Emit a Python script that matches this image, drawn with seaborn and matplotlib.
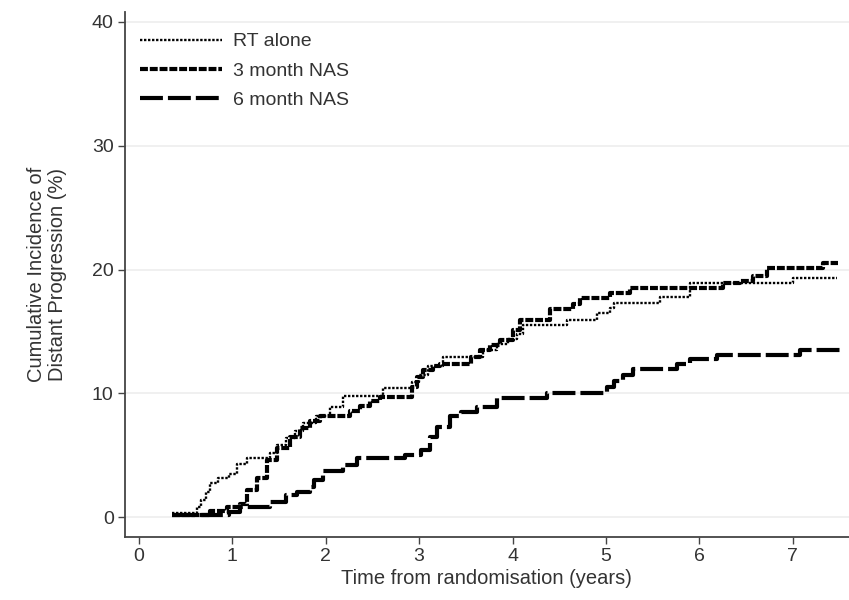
import matplotlib
matplotlib.use('Agg')
import matplotlib.pyplot as plt
import seaborn as sns
import pandas as pd

# cumulative incidence curves (step functions)
rt_time = [0.35, 0.62, 0.67, 0.72, 0.76, 0.85, 0.97, 1.05, 1.16, 1.40, 1.48, 1.58, 1.67, 1.76,
           1.90, 2.05, 2.19, 2.61, 2.92, 3.00, 3.10, 3.25, 3.68, 3.83, 3.95, 4.05, 4.11, 4.58,
           4.90, 5.04, 5.08, 5.58, 5.90, 7.00, 7.47]
rt_inc = [0.3, 0.8, 1.4, 2.0, 2.8, 3.2, 3.5, 4.3, 4.8, 5.2, 5.8, 6.4, 7.0, 7.6,
          8.2, 8.9, 9.8, 10.4, 10.9, 11.5, 12.2, 12.9, 13.5, 14.0, 14.4, 14.8, 15.5, 15.9,
          16.5, 16.9, 17.3, 17.8, 18.9, 19.3, 19.3]

nas3_time = [0.35, 0.76, 0.94, 1.08, 1.16, 1.26, 1.37, 1.48, 1.62, 1.72, 1.83, 1.94, 2.26,
             2.37, 2.47, 2.58, 2.92, 2.98, 3.04, 3.15, 3.22, 3.55, 3.65, 3.76, 3.87, 4.00,
             4.08, 4.40, 4.65, 4.72, 5.04, 5.26, 6.25, 6.43, 6.57, 6.72, 7.32, 7.48]
nas3_inc = [0.2, 0.5, 0.8, 1.1, 2.2, 3.2, 4.6, 5.6, 6.5, 7.2, 7.8, 8.2, 8.6,
            9.0, 9.4, 9.7, 10.5, 11.3, 11.9, 12.2, 12.4, 12.9, 13.5, 13.9, 14.3, 15.1,
            15.9, 16.8, 17.2, 17.7, 18.1, 18.5, 18.9, 19.1, 19.5, 20.1, 20.5, 20.5]

nas6_time = [0.35, 0.97, 1.08, 1.40, 1.58, 1.69, 1.83, 1.88, 1.97, 2.19, 2.33, 2.85, 3.02,
             3.12, 3.19, 3.33, 3.45, 3.62, 3.83, 4.37, 5.01, 5.08, 5.18, 5.29, 5.76, 5.90,
             6.19, 7.08, 7.50]
nas6_inc = [0.2, 0.4, 0.8, 1.2, 1.8, 2.0, 2.4, 3.0, 3.7, 4.2, 4.8, 5.0, 5.4,
            6.5, 7.3, 8.2, 8.5, 8.9, 9.6, 10.0, 10.5, 11.0, 11.5, 12.0, 12.4, 12.8,
            13.1, 13.5, 13.5]

groups = ['RT alone', '3 month NAS', '6 month NAS']
x_ticks = [0, 1, 2, 3, 4, 5, 6, 7]
y_ticks = [0, 10, 20, 30, 40]

sns.set_style('white')
plt.rcParams['font.family'] = ['Liberation Sans', 'DejaVu Sans']

fig = plt.figure(figsize=(8.49, 6.0), dpi=100)
ax = fig.add_axes([0.147, 0.105, 0.853, 0.875])

for yv in y_ticks:
    ax.axhline(yv, color='#eeeeee', lw=1.2, zorder=0)

curves = [
    (rt_time, rt_inc, dict(lw=1.7, linestyle=(0, (1, 0.7)))),
    (nas3_time, nas3_inc, dict(lw=3.0, linestyle=(0, (1.9, 0.45)))),
    (nas6_time, nas6_inc, dict(lw=3.0, linestyle=(0, (5.5, 1.2)))),
]
for (t, v, st), name in zip(curves, groups):
    d = pd.DataFrame({'time': t, 'inc': v})
    sns.lineplot(data=d, x='time', y='inc', ax=ax, color='black', drawstyle='steps-post',
                 label=name, estimator=None, sort=False, **st)

ax.set_xlim(-0.15, 7.6)
ax.set_ylim(-1.6, 40.8)
ax.set_xticks(x_ticks)
ax.set_yticks(y_ticks)
ax.tick_params(direction='out', length=5, width=1, color='#444444', labelsize=14,
               labelcolor='#333333', left=True, bottom=True, pad=3)
for s in ['top', 'right']:
    ax.spines[s].set_visible(False)
for s in ['left', 'bottom']:
    ax.spines[s].set_color('#444444')
    ax.spines[s].set_linewidth(1.3)

ax.set_xlabel('Time from randomisation (years)', fontsize=14.5, color='#333333', labelpad=3)
ax.set_ylabel('Cumulative Incidence of\nDistant Progression (%)', fontsize=14.5,
              color='#333333', labelpad=18, linespacing=1.1)

leg = ax.legend(loc='upper left', frameon=False, fontsize=14, handlelength=4.2,
                labelspacing=0.6, handletextpad=0.55, borderaxespad=0.4,
                bbox_to_anchor=(0.0, 0.99))
for txt in leg.get_texts():
    txt.set_color('#333333')

fig.savefig('out.png', dpi=100)
